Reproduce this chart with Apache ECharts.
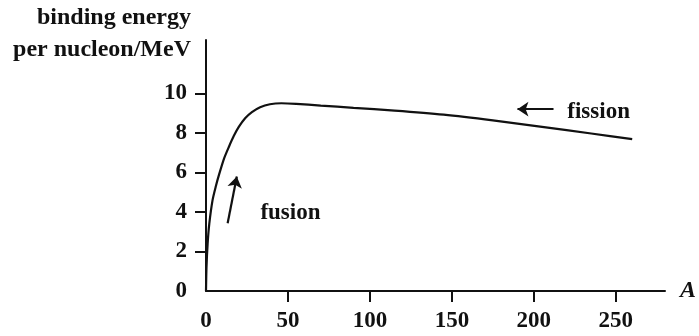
<!DOCTYPE html>
<html>
<head>
<meta charset="utf-8">
<script src="https://cdn.jsdelivr.net/npm/echarts@6/dist/echarts.min.js"></script>
<style>
  html, body { margin: 0; padding: 0; background: #fff; }
  #chart { width: 699px; height: 336px; }
</style>
</head>
<body>
<div id="chart"></div>
<script>
// mass number A vs binding energy per nucleon (MeV)
const massNumbers = [0, 0.3, 1, 2, 4, 6, 8, 11, 14, 17, 20, 24, 28, 33, 39, 46, 55, 70, 90, 115, 145, 175, 205, 235, 260];
const bindingEnergy = [0, 1.2, 2.4, 3.4, 4.6, 5.3, 5.9, 6.7, 7.3, 7.85, 8.3, 8.75, 9.05, 9.3, 9.45, 9.5, 9.47, 9.38, 9.27, 9.13, 8.92, 8.63, 8.3, 7.97, 7.68];

const xTickValues = [50, 100, 150, 200, 250];
const xLabelValues = [0, 50, 100, 150, 200, 250];
const yTickValues = [2, 4, 6, 8, 10];
const yLabelValues = [0, 2, 4, 6, 8, 10];

// annotations: arrows [from, to] and text labels in data coords
const fusionArrow = [[13.2, 3.43], [18.8, 5.79]];
const fissionArrow = [[212, 9.2], [190, 9.2]];
const fusionLabel = [51.5, 3.95];
const fissionLabel = [239.5, 9.06];

const FONT = 'Liberation Serif';
const INK = '#111';

const chart = echarts.init(document.getElementById('chart'));

const option = {
    animation: false,
    backgroundColor: '#fff',
    grid: { left: 206, right: 27, top: 40, bottom: 45 },
    graphic: [
        {
            type: 'text', right: 508, top: 6,
            style: { text: 'binding energy', font: 'bold 24px "' + FONT + '"', fill: INK, textAlign: 'right' }
        },
        {
            type: 'text', right: 508, top: 38,
            style: { text: 'per nucleon/MeV', font: 'bold 24px "' + FONT + '"', fill: INK, textAlign: 'right' }
        }
    ],
    xAxis: {
        type: 'value',
        min: 0,
        max: 280,
        name: 'A',
        nameLocation: 'end',
        nameGap: 15,
        nameTextStyle: { fontFamily: FONT, fontSize: 24, fontWeight: 'bold', fontStyle: 'italic', color: INK },
        axisLine: { show: true, onZero: false, lineStyle: { color: INK, width: 2 } },
        axisTick: { show: true, length: 11, lineStyle: { color: INK, width: 2 }, customValues: xTickValues },
        axisLabel: { customValues: xLabelValues, margin: 19, fontFamily: FONT, fontSize: 23, fontWeight: 'bold', color: INK },
        splitLine: { show: false }
    },
    yAxis: {
        type: 'value',
        min: 0,
        max: 12.7,
        axisLine: { show: true, onZero: false, lineStyle: { color: INK, width: 2 } },
        axisTick: { show: true, length: 11, lineStyle: { color: INK, width: 2 }, customValues: yTickValues },
        axisLabel: { customValues: yLabelValues, margin: 19, fontFamily: FONT, fontSize: 23, fontWeight: 'bold', color: INK },
        splitLine: { show: false }
    },
    series: [
        {
            type: 'line',
            data: massNumbers.map((a, i) => [a, bindingEnergy[i]]),
            smooth: 0.25,
            showSymbol: false,
            lineStyle: { color: INK, width: 2.2 },
            markLine: {
                silent: true,
                symbol: ['none', 'arrow'],
                symbolSize: 11,
                label: { show: false },
                lineStyle: { color: INK, width: 2.2, type: 'solid' },
                data: [
                    [{ coord: fusionArrow[0] }, { coord: fusionArrow[1] }],
                    [{ coord: fissionArrow[0] }, { coord: fissionArrow[1] }]
                ]
            },
            markPoint: {
                silent: true,
                symbol: 'circle',
                symbolSize: 1,
                itemStyle: { color: 'transparent' },
                label: {
                    show: true,
                    position: 'inside',
                    formatter: '{b}',
                    fontFamily: FONT,
                    fontSize: 23,
                    fontWeight: 'bold',
                    color: INK
                },
                data: [
                    { name: 'fusion', coord: fusionLabel },
                    { name: 'fission', coord: fissionLabel }
                ]
            }
        }
    ]
};

chart.setOption(option);
</script>
</body>
</html>
